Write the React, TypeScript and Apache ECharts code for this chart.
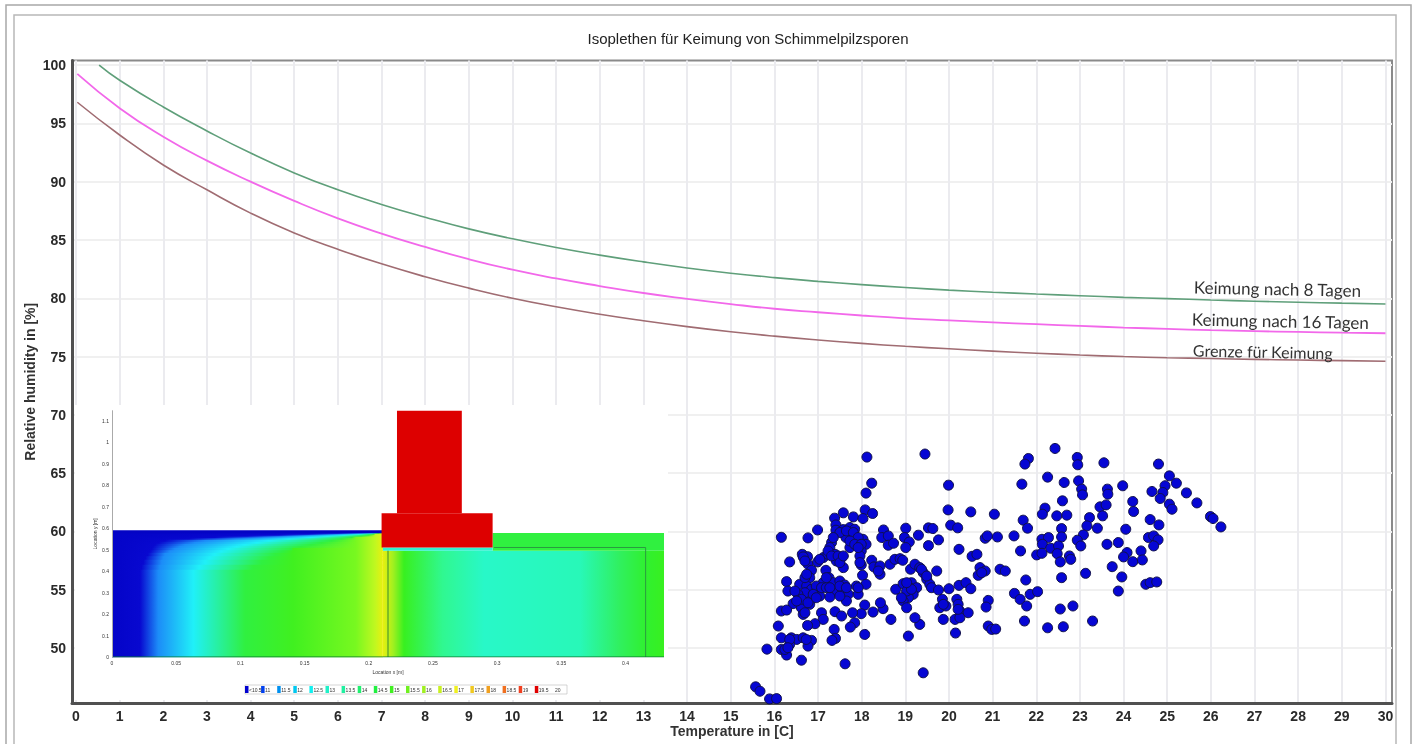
import React, { useEffect, useRef } from "react";
import * as echarts from "echarts";

const titleText = "Isoplethen für Keimung von Schimmelpilzsporen";
const xTicks = [0,1,2,3,4,5,6,7,8,9,10,11,12,13,14,15,16,17,18,19,20,21,22,23,24,25,26,27,28,29,30];
const yTicks = [50,55,60,65,70,75,80,85,90,95,100];

const curveT = [1,2,3,4,5,6,7,8,9,10,11,12,13,14,15,16,17,18,19,20,21,22,23,24,25,26,27,28,29,30];
const green8 = [98.7,96.4,94.35,92.45,90.75,89.3,88.05,86.95,85.95,85.1,84.35,83.7,83.12,82.6,82.15,81.77,81.45,81.17,80.92,80.7,80.52,80.36,80.22,80.08,79.97,79.85,79.75,79.66,79.58,79.51];
const magenta16 = [96.3,93.85,91.8,90.0,88.35,86.85,85.55,84.4,83.35,82.45,81.7,81.05,80.45,79.95,79.5,79.1,78.8,78.52,78.28,78.1,77.93,77.78,77.63,77.49,77.37,77.26,77.18,77.11,77.05,77.0];
const brownLimit = [94.0,91.43,89.3,87.3,85.6,84.2,82.95,81.85,80.87,80.0,79.27,78.63,78.07,77.57,77.13,76.75,76.42,76.13,75.88,75.67,75.47,75.29,75.13,75.0,74.9,74.83,74.76,74.7,74.65,74.6];
const greenStart = [0.53, 100];
const magentaStart = [0.03, 99.24];
const brownStart = [0.03, 96.81];

const spotT = [18.12,19.45,18.23,18.10,19.99,19.98,20.50,18.08,18.25,17.58,17.81,18.03,17.38,16.99,17.41,17.41,17.58,17.73,17.84,16.77,16.16,17.64,17.84,18.03,18.10,17.31,17.73,17.99,17.27,18.50,18.46,18.61,18.61,18.73,19.01,18.98,19.09,19.01,19.30,19.53,19.63,19.76,19.53,20.04,20.20,20.23,20.53,20.64,
16.35,16.64,16.76,16.77,16.99,17.12,17.23,17.39,17.54,17.42,17.58,17.18,17.96,18.23,17.99,18.28,18.42,18.42,18.02,18.65,18.76,18.88,18.94,19.12,19.22,19.33,19.72,19.41,19.49,19.56,19.60,16.85,16.81,17.25,17.12,16.28,16.31,16.58,16.74,16.85,17.00,17.35,17.50,17.61,17.88,18.10,17.92,17.69,17.42,17.27,17.04,16.81,16.66,16.43,16.16,16.28,16.62,16.81,17.65,18.07,18.78,18.95,19.14,19.26,19.18,19.07,18.95,19.03,19.76,20.00,20.23,20.39,20.50,20.71,20.67,20.18,20.21,19.85,19.79,19.93,20.25,20.44,20.14,20.25,19.87,20.15,19.33,19.22,18.67,19.07,18.26,18.49,18.43,17.99,17.79,17.39,17.54,17.08,17.12,16.93,16.76,16.66,17.84,17.74,17.37,17.40,17.32,18.07,16.09,16.16,16.39,16.51,16.66,16.85,16.77,16.35,16.16,16.28,15.83,16.62,17.62,19.41,15.57,15.67,15.89,16.05,
22.43,21.82,21.74,22.94,22.95,23.55,24.80,22.26,21.67,22.64,22.97,23.04,23.06,23.63,23.64,23.98,25.05,25.21,24.95,24.65,24.90,24.84,25.44,25.68,22.60,24.21,25.05,25.11,24.23,22.20,22.14,22.47,22.70,23.46,23.60,23.52,21.04,23.22,25.99,26.05,26.23,21.70,21.80,23.16,23.40,22.58,24.05,24.61,24.81,20.83,20.88,21.11,21.49,22.58,23.08,22.94,23.02,22.13,22.28,22.14,22.33,22.51,22.48,23.62,23.88,24.57,24.69,24.79,24.69,24.40,21.64,22.01,22.13,24.08,24.00,24.21,24.43,22.55,22.76,22.79,23.74,21.17,21.29,20.83,20.75,21.76,22.58,23.13,23.96,24.51,24.61,24.76,23.88,21.50,21.63,21.78,21.86,22.03,20.90,20.85,22.55,22.84,21.73,23.29,20.90,20.98,21.07,22.26,22.62,
16.70,16.96,17.08,16.70,16.54,16.89,16.47,17.19,17.54,17.50,16.62,16.77,16.70,16.51,17.50,17.65,17.81,17.92,17.73,17.84,17.99,17.35,17.23,17.31,17.46,17.04,16.66,16.70,17.50,17.58,17.92,17.96,17.19,16.74,17.50,17.65,17.27,16.96,17.92,19.10,19.03,19.14,18.91,19.03,16.35,16.24,16.31,16.73,19.87,20.21,19.37,19.49,18.38];
const spotRH = [66.38,66.64,64.14,63.29,63.97,61.85,61.68,61.85,61.54,61.60,61.25,61.11,61.14,60.13,60.56,60.11,60.16,60.34,60.19,59.45,59.50,59.48,59.62,59.33,58.90,59.05,58.62,58.33,58.62,60.13,59.48,59.62,58.82,58.99,60.28,59.48,59.10,58.62,59.68,60.31,60.25,59.28,58.79,60.54,60.31,58.47,57.87,58.04,
57.39,58.04,57.84,57.19,57.39,57.76,58.04,58.04,57.76,57.47,56.90,56.67,57.90,57.53,57.13,56.96,57.04,56.33,56.24,57.19,57.61,57.67,57.53,56.76,57.19,56.90,56.61,56.47,55.90,55.47,55.18,56.67,56.04,56.04,55.61,55.70,54.89,55.47,55.32,55.04,54.89,55.61,55.75,55.41,55.32,55.47,54.61,54.61,54.89,54.38,54.46,54.32,54.04,53.81,53.18,53.26,53.46,53.75,54.04,53.69,55.04,55.52,55.61,55.18,54.61,54.32,54.04,53.46,54.98,55.09,55.38,55.61,55.09,56.90,56.24,54.18,53.75,54.18,53.46,53.61,53.18,53.03,52.46,52.60,52.46,51.29,52.03,52.60,52.46,51.03,53.09,53.38,53.89,52.95,53.03,53.12,52.75,53.03,52.46,52.09,51.94,52.89,52.17,51.80,51.60,50.83,50.66,51.17,51.89,50.88,50.88,50.74,50.88,50.66,50.17,50.31,49.88,49.40,49.91,48.96,48.65,47.88,46.68,46.30,45.64,45.67,
67.12,66.26,65.78,66.35,65.72,65.89,65.78,64.66,64.06,64.20,64.34,63.63,63.14,63.63,63.20,63.92,64.77,64.14,63.92,63.43,63.34,62.83,63.31,62.45,62.63,62.57,62.34,61.91,61.71,62.00,61.48,61.34,61.40,62.11,62.28,61.34,61.48,61.19,61.28,61.11,60.39,60.97,60.28,60.48,60.28,60.25,60.19,61.02,60.56,59.42,59.62,59.53,59.62,59.53,59.71,59.25,58.76,59.33,59.48,58.90,58.56,58.76,58.10,58.90,59.05,59.48,59.62,59.28,58.76,58.33,58.33,57.99,58.13,58.19,57.82,57.41,57.56,57.39,57.90,57.61,56.98,56.76,56.61,56.61,56.47,55.84,56.04,56.41,56.10,55.47,55.61,55.67,54.89,54.69,54.18,53.61,54.61,54.84,54.09,53.52,53.35,53.61,52.32,52.32,51.89,51.60,51.63,51.74,51.83,
56.04,55.32,55.18,54.75,54.61,54.61,54.89,55.18,55.18,54.46,54.18,53.89,53.03,54.04,59.91,60.05,59.91,59.48,59.19,58.90,58.90,59.48,58.33,57.90,57.90,57.61,57.82,57.47,57.33,57.90,58.62,57.33,56.04,56.33,55.32,55.18,55.18,54.32,55.18,55.18,54.89,55.04,54.32,55.61,50.74,49.88,50.03,50.74,53.75,53.32,56.76,56.18,56.61];

// Inset: temperature field of the wall section, in metres
const leftRowTop = [0.5767,0.572,0.5674,0.5627,0.5581,0.5512,0.5442,0.5349,0.5256,0.5163,0.507,0.4954,0.4837,0.4675,0.4512,0.428,0.4047];
const leftRowBottom = [0.572,0.5674,0.5627,0.5581,0.5512,0.5442,0.5349,0.5256,0.5163,0.507,0.4954,0.4837,0.4675,0.4512,0.428,0.4047,0];
const leftBlueEnd = [0.176,0.153,0.13,0.105,0.08,0.06,0.0413,0.0365,0.0335,0.032,0.031,0.0295,0.028,0.026,0.0244,0.023,0.0218];
const leftLightBlue = [0.194,0.175,0.155,0.137,0.119,0.096,0.0725,0.0645,0.057,0.053,0.049,0.045,0.0413,0.04,0.0387,0.0373,0.036];
const leftCyan = [0.202,0.192,0.181,0.168,0.155,0.138,0.122,0.113,0.1036,0.097,0.0906,0.085,0.08,0.076,0.0725,0.068,0.0634];
const leftGreen = [0.2075,0.204,0.2,0.194,0.187,0.179,0.171,0.163,0.155,0.147,0.14,0.133,0.127,0.122,0.1166,0.11,0.1036];
const leftTailPos = [0.141,0.19,0.205,0.211];
const leftTailCol = ["#40f020","#78f820","#c0f820","#e8f010"];
const rightPos = [0.211,0.219,0.2275,0.2575,0.29,0.3645,0.395,0.4156,0.43];
const rightCol = ["#e8f010","#a0f020","#38f020","#30f890","#28f8c8","#28f8b8","#30f060","#30f030","#38f020"];
const solidX0 = [0,0.2965,0.211,0.222,0.21];
const solidX1 = [0.211,0.43,0.2965,0.2725,0.2965];
const solidY0 = [0.5767,0.495,0.495,0.67,0.51];
const solidY1 = [0.5907,0.577,0.51,1.147,0.67];
const solidCol = ["#0404c4","#30f040","#30f0d0","#dd0000","#dd0000"];
const wallLineA = [[0.215,0],[0.215,0.495]];
const wallLineB = [[0.2975,0.51],[0.4157,0.51],[0.4157,0]];
const baseLine = [[0,0],[0.43,0]];
const insetLegendLabels = ["<10.5","11","11.5","12","12.5","13","13.5","14","14.5","15","15.5","16","16.5","17","17.5","18","18.5","19","19.5","20"];
const insetLegendCols = ["#0000d0","#0040f0","#0090f0","#00c8f0","#10f0f0","#20f0c8","#20f0a0","#20f070","#20f040","#40f020","#70f020","#a0f020","#c8f020","#f0f020","#f0c820","#f0a020","#f07020","#f04020","#e00000","#ffffff"];

const noteLabels = ["Keimung nach 8 Tagen","Keimung nach 16 Tagen","Grenze für Keimung"];
const noteX = [1194,1192,1193];
const noteY = [287,319,350];
const noteSize = [17,17,16];

const zip = (a: number[], b: number[]) => a.map((v, i) => [v, b[i]]);

export default function App() {
  const ref = useRef<HTMLDivElement>(null);
  useEffect(() => {
    const chart = echarts.init(ref.current!, undefined, { renderer: "svg" });
    const FONT = "'Liberation Sans', Arial, sans-serif";
    const legendGraphics: any[] = [];
    insetLegendLabels.forEach((t, i) => {
      const x = 245 + i * 16.1;
      legendGraphics.push({ type: "rect", z: 1, silent: true, shape: { x, y: 686, width: 3.5, height: 7 }, style: { fill: insetLegendCols[i] } });
      legendGraphics.push({ type: "text", z: 5, silent: true, x: x + 4, y: 689.5, style: { text: t, font: `5px ${FONT}`, fill: "#333", textVerticalAlign: "middle" } });
    });
    const leftRows = leftRowTop.map((top, i) => [0, leftRowBottom[i], 0.211, top]);
    const leftStops = leftRowTop.map((_, i) => {
      const pts: [number, string][] = [
        [0, "#0404c8"], [leftBlueEnd[i], "#0808d0"], [leftLightBlue[i], "#1c8cf8"], [leftCyan[i], "#20f0f8"], [leftGreen[i], "#30f040"],
      ];
      leftTailPos.forEach((p, k) => { if (p > leftGreen[i]) pts.push([p, leftTailCol[k]]); });
      return pts.map(([p, c]) => ({ offset: Math.min(1, p / 0.211), color: c }));
    });
    const rightStops = rightPos.map((p, i) => ({ offset: (p - 0.211) / (0.43 - 0.211), color: rightCol[i] }));
    chart.setOption({
      animation: false,
      backgroundColor: "#ffffff",
      grid: [
        { left: 72, right: 20, top: 60.5, bottom: 41, outerBoundsMode: "none", show: true, borderColor: "#8a8a8a", borderWidth: 2, backgroundColor: "transparent" },
        { left: 112, width: 552, top: 410.7, height: 246.3, outerBoundsMode: "none", show: false },
      ],
      xAxis: [
        {
          type: "value", gridIndex: 0, min: -0.0916, max: 30.15,
          name: "Temperature in [C]", nameLocation: "middle", nameGap: 21, nameMoveOverlap: false,
          nameTextStyle: { fontFamily: FONT, fontWeight: "bold", fontSize: 14, color: "#333" },
          axisLine: { show: true, onZero: false, lineStyle: { color: "#505050", width: 3 } },
          axisTick: { show: false, customValues: xTicks },
          axisLabel: { customValues: xTicks, margin: 6, fontFamily: FONT, fontWeight: "bold", fontSize: 14, color: "#2a2a2a", hideOverlap: false },
          splitLine: { show: true, lineStyle: { color: "#ebebef", width: 2 } },
        },
        {
          type: "value", gridIndex: 1, min: 0, max: 0.43, interval: 0.05, z: 4,
          name: "Location x [m]", nameLocation: "middle", nameGap: 12, nameMoveOverlap: false,
          nameTextStyle: { fontFamily: FONT, fontSize: 5, color: "#333" },
          axisLine: { show: false },
          axisTick: { show: false },
          axisLabel: { margin: 3, fontFamily: FONT, fontSize: 5, color: "#333", showMaxLabel: false },
          splitLine: { show: false },
        },
      ],
      yAxis: [
        {
          type: "value", gridIndex: 0, min: 45.29, max: 100.39,
          name: "Relative humidity in [%]", nameLocation: "middle", nameGap: 35, nameMoveOverlap: false,
          nameTextStyle: { fontFamily: FONT, fontWeight: "bold", fontSize: 14, color: "#333" },
          axisLine: { show: true, onZero: false, lineStyle: { color: "#505050", width: 3 } },
          axisTick: { show: false, customValues: yTicks },
          axisLabel: { customValues: yTicks, margin: 6, fontFamily: FONT, fontWeight: "bold", fontSize: 14, color: "#2a2a2a" },
          splitLine: { show: true, lineStyle: { color: "#f0f0f0", width: 2 } },
        },
        {
          type: "value", gridIndex: 1, min: 0, max: 1.147, interval: 0.1, z: 4,
          name: "Location y [m]", nameLocation: "middle", nameGap: 15, nameMoveOverlap: false,
          nameTextStyle: { fontFamily: FONT, fontSize: 5, color: "#333" },
          axisLine: { show: true, lineStyle: { color: "#aaaaaa", width: 1 } },
          axisTick: { show: false },
          axisLabel: { margin: 3, fontFamily: FONT, fontSize: 5, color: "#333", showMaxLabel: false },
          splitLine: { show: false },
        },
      ],
      series: [
        {
          type: "custom", name: "field left", xAxisIndex: 1, yAxisIndex: 1, z: 2, silent: true,
          data: leftRows, encode: { x: [0, 2], y: [1, 3] },
          renderItem: (p: any, api: any) => {
            const a = api.coord([api.value(0), api.value(3)]);
            const b = api.coord([api.value(2), api.value(1)]);
            return { type: "rect", shape: { x: a[0], y: a[1] - 0.3, width: b[0] - a[0], height: b[1] - a[1] + 0.6 }, style: { fill: new echarts.graphic.LinearGradient(0, 0, 1, 0, leftStops[p.dataIndex]) } };
          },
        },
        {
          type: "custom", name: "field right", xAxisIndex: 1, yAxisIndex: 1, z: 2, silent: true,
          data: [[0.211, 0, 0.43, 0.495]], encode: { x: [0, 2], y: [1, 3] },
          renderItem: (_: any, api: any) => {
            const a = api.coord([api.value(0), api.value(3)]);
            const b = api.coord([api.value(2), api.value(1)]);
            return { type: "rect", shape: { x: a[0], y: a[1], width: b[0] - a[0], height: b[1] - a[1] }, style: { fill: new echarts.graphic.LinearGradient(0, 0, 1, 0, rightStops) } };
          },
        },
        {
          type: "custom", name: "solid parts", xAxisIndex: 1, yAxisIndex: 1, z: 2, silent: true,
          data: solidX0.map((x, i) => [x, solidY0[i], solidX1[i], solidY1[i]]), encode: { x: [0, 2], y: [1, 3] },
          renderItem: (p: any, api: any) => {
            const a = api.coord([api.value(0), api.value(3)]);
            const b = api.coord([api.value(2), api.value(1)]);
            return { type: "rect", shape: { x: a[0], y: a[1], width: b[0] - a[0], height: b[1] - a[1] }, style: { fill: solidCol[p.dataIndex] } };
          },
        },
        { type: "line", name: "wall a", xAxisIndex: 1, yAxisIndex: 1, z: 3, silent: true, showSymbol: false, data: wallLineA, lineStyle: { color: "#3a8a30", width: 1 } },
        { type: "line", name: "wall b", xAxisIndex: 1, yAxisIndex: 1, z: 3, silent: true, showSymbol: false, data: wallLineB, lineStyle: { color: "#2a9a40", width: 1 } },
        { type: "line", name: "base", xAxisIndex: 1, yAxisIndex: 1, z: 3, silent: true, showSymbol: false, data: baseLine, lineStyle: { color: "#0a7a30", width: 1 } },
        { type: "line", name: "Keimung nach 8 Tagen", showSymbol: false, smooth: true, z: 4, data: [greenStart, ...zip(curveT, green8)], lineStyle: { color: "#5f9f7a", width: 1.6 } },
        { type: "line", name: "Keimung nach 16 Tagen", showSymbol: false, smooth: true, z: 4, data: [magentaStart, ...zip(curveT, magenta16)], lineStyle: { color: "#f268ea", width: 1.8 } },
        { type: "line", name: "Grenze für Keimung", showSymbol: false, smooth: true, z: 4, data: [brownStart, ...zip(curveT, brownLimit)], lineStyle: { color: "#a06c72", width: 1.6 } },
        {
          type: "scatter", name: "Messwerte", z: 5, symbol: "circle", symbolSize: 10, clip: false,
          data: zip(spotT, spotRH),
          itemStyle: { color: "#0606d4", borderColor: "#10104a", borderWidth: 1, opacity: 1 },
        },
      ],
      graphic: {
        elements: [
          { type: "rect", z: 1, silent: true, shape: { x: 75, y: 405, width: 593, height: 295 }, style: { fill: "#ffffff" } },
          { type: "rect", z: 0, silent: true, shape: { x: 6, y: 5, width: 1405, height: 760 }, style: { fill: "none", stroke: "#a8a8a8", lineWidth: 1.5 } },
          { type: "rect", z: 0, silent: true, shape: { x: 14, y: 15, width: 1382, height: 760 }, style: { fill: "none", stroke: "#b8b8b8", lineWidth: 1.5 } },
          { type: "text", z: 5, silent: true, x: 748, y: 38, style: { text: titleText, font: `15px ${FONT}`, fill: "#222", textAlign: "center", textVerticalAlign: "middle" } },
          ...noteLabels.map((t, i) => ({
            type: "text", z: 6, silent: true, x: noteX[i], y: noteY[i], rotation: -0.02,
            style: { text: t, font: `${noteSize[i]}px Lato, 'Open Sans', sans-serif`, fill: "#333", textVerticalAlign: "middle" },
          })),
          { type: "rect", z: 1, silent: true, shape: { x: 245, y: 685, width: 322, height: 9 }, style: { fill: "none", stroke: "#bbb", lineWidth: 0.6 } },
          ...legendGraphics,
        ],
      },
    });
    return () => chart.dispose();
  }, []);
  return <div ref={ref} style={{ position: "fixed", left: 0, top: 0, width: 1412, height: 744, filter: "blur(0.5px)" }} />;
}
